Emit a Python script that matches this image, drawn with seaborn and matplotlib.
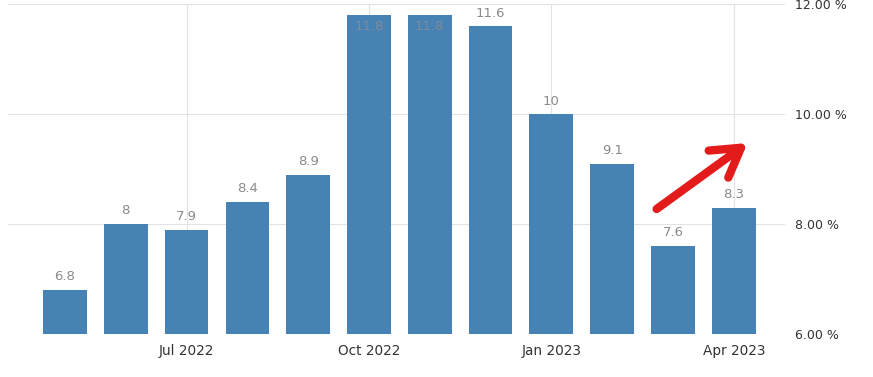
import matplotlib
matplotlib.use("Agg")
import matplotlib.pyplot as plt
import seaborn as sns
import pandas as pd

months = ["May 2022", "Jun 2022", "Jul 2022", "Aug 2022", "Sep 2022", "Oct 2022",
          "Nov 2022", "Dec 2022", "Jan 2023", "Feb 2023", "Mar 2023", "Apr 2023"]
rates = [6.8, 8.0, 7.9, 8.4, 8.9, 11.8, 11.8, 11.6, 10.0, 9.1, 7.6, 8.3]
labels = ["6.8", "8", "7.9", "8.4", "8.9", "11.8", "11.8", "11.6", "10", "9.1", "7.6", "8.3"]
shown_ticks = ["Jul 2022", "Oct 2022", "Jan 2023", "Apr 2023"]
y_ticks = [6, 8, 10, 12]

df = pd.DataFrame({"month": months, "rate": rates})

sns.set_style("white")
plt.rcParams['font.family'] = ['DejaVu Sans']

fig = plt.figure(figsize=(8.73, 3.77), dpi=100)
ax = fig.add_axes([0.009, 0.114, 0.890, 0.875])

sns.barplot(data=df, x="month", y="rate", order=months, color="#4682b4",
            saturation=1, width=0.72, ax=ax, zorder=2, linewidth=0)

ax.set_ylim(6, 12)
ax.set_xlim(-0.94, 11.84)

# labels above bars (inside for the ones that hit the top)
for i, (v, lab) in enumerate(zip(rates, labels)):
    if v > 11.7:
        ax.text(i, v - 0.08, lab, ha="center", va="top", fontsize=9.5,
                color="#7f8c99", zorder=3)
    else:
        ax.text(i, v + 0.12, lab, ha="center", va="bottom", fontsize=9.5,
                color="#8a8a8a", zorder=3)

pos = [months.index(m) for m in shown_ticks]
ax.set_xticks(pos)
ax.set_xticklabels(shown_ticks, fontsize=9.8, color="#333333")
ax.set_yticks(y_ticks)
ax.set_yticklabels([f"{t:.2f} %" for t in y_ticks], fontsize=9, color="#333333")
ax.yaxis.tick_right()
ax.tick_params(axis="both", length=0, pad=7)
ax.tick_params(axis="x", pad=7)
ax.grid(True, color="#e3e3e3", linewidth=0.8, zorder=0)
ax.set_axisbelow(True)
for s in ax.spines.values():
    s.set_visible(False)
ax.set_xlabel("")
ax.set_ylabel("")

# red arrow
ax.annotate("", xy=(0.952, 0.579), xytext=(0.835, 0.379), xycoords="axes fraction",
            textcoords="axes fraction",
            arrowprops=dict(arrowstyle="->,head_length=1.0,head_width=0.6",
                            color="#e31b1b", lw=6, capstyle="round",
                            joinstyle="round", mutation_scale=20, shrinkA=0, shrinkB=0))

fig.savefig("out.png", dpi=100)
